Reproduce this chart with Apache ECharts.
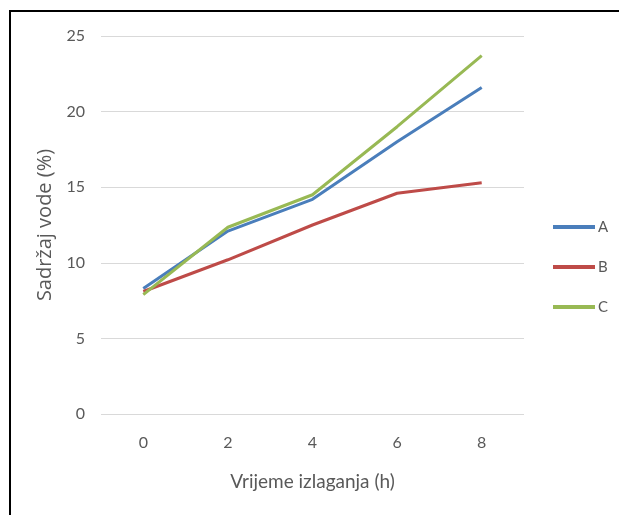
<!DOCTYPE html>
<html>
<head>
<meta charset="utf-8">
<script src="https://cdn.jsdelivr.net/npm/echarts@6/dist/echarts.min.js"></script>
<style>
html,body{margin:0;padding:0;background:#fff;}
#chart{width:619px;height:515px;}
#frame{position:absolute;left:9px;top:10px;width:700px;height:600px;border-top:2px solid #000;border-left:2px solid #000;pointer-events:none;}
</style>
</head>
<body>
<div id="chart"></div>
<div id="frame"></div>
<script>
const categories = ['0', '2', '4', '6', '8'];
const seriesA = [8.3, 12.1, 14.2, 18.0, 21.6];
const seriesB = [8.1, 10.2, 12.5, 14.6, 15.3];
const seriesC = [7.9, 12.35, 14.5, 19.0, 23.7];
const yTicks = { min: 0, max: 25, interval: 5 };
const xTitle = 'Vrijeme izlaganja (h)';
const yTitle = 'Sadržaj vode (%)';

const font = 'Lato, "Open Sans", sans-serif';
const txt = '#595959';
const chart = echarts.init(document.getElementById('chart'));
function mk(name, data, color) {
  return { name, type: 'line', data, symbol: 'none', smooth: false,
    lineStyle: { color, width: 3 }, itemStyle: { color } };
}
chart.setOption({
  backgroundColor: '#fff',
  animation: false,
  grid: { left: 101, right: 95, top: 36, bottom: 101 },
  legend: {
    orient: 'vertical', left: 553, top: 219, padding: 0,
    icon: 'rect', itemWidth: 42, itemHeight: 4, itemGap: 24,
    textStyle: { color: txt, fontFamily: font, fontSize: 15, lineHeight: 16, padding: [0, 0, 0, -2] },
    data: ['A', 'B', 'C']
  },
  xAxis: {
    type: 'category', data: categories, boundaryGap: true,
    name: xTitle, nameLocation: 'middle', nameGap: 58,
    nameTextStyle: { color: txt, fontFamily: font, fontSize: 19 },
    axisLine: { show: false }, axisTick: { show: false },
    axisLabel: { color: txt, fontFamily: font, fontSize: 16, margin: 21 }
  },
  yAxis: {
    type: 'value', min: yTicks.min, max: yTicks.max, interval: yTicks.interval,
    name: yTitle, nameLocation: 'middle', nameGap: 39,
    nameTextStyle: { color: txt, fontFamily: '"Open Sans", Lato, sans-serif', fontSize: 20 },
    axisLine: { show: false }, axisTick: { show: false },
    axisLabel: { color: txt, fontFamily: font, fontSize: 16, margin: 16 },
    splitLine: { lineStyle: { color: '#d9d9d9', width: 1 } }
  },
  series: [
    mk('A', seriesA, '#4A7EBB'),
    mk('B', seriesB, '#BE4B48'),
    mk('C', seriesC, '#98B954')
  ]
});
</script>
</body>
</html>
